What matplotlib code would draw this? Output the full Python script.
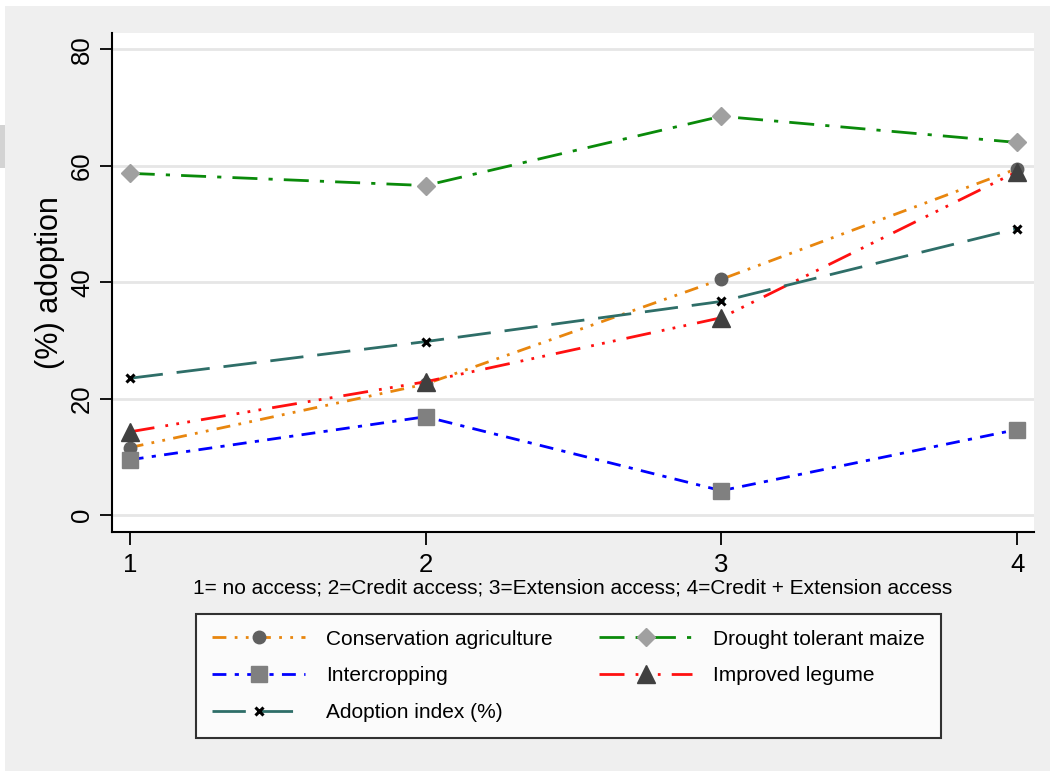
import matplotlib
matplotlib.use("Agg")
import matplotlib.pyplot as plt
import matplotlib.patches as patches

plt.rcParams['font.family'] = ['Liberation Sans', 'DejaVu Sans']

# access groups
groups = [1, 2, 3, 4]
x_labels = ['1', '2', '3', '4']

# (%) adoption by group
conservation = [11.6, 22.5, 40.5, 59.5]
drought = [58.7, 56.6, 68.5, 64.0]
intercropping = [9.5, 16.9, 4.2, 14.7]
legume = [14.3, 22.9, 33.9, 59.0]
adoption_index = [23.5, 29.8, 36.7, 49.2]

y_ticks = [0, 20, 40, 60, 80]

fig = plt.figure(figsize=(10.5, 7.71), dpi=100)
fig.patch.set_facecolor('white')

# gray background panel like the stata graph region
fig.add_artist(patches.Rectangle((5 / 1050, 0), 1, 1 - 6 / 771, transform=fig.transFigure,
                                 facecolor='#efefef', edgecolor='none', zorder=-10))
fig.add_artist(patches.Rectangle((0, 1 - 168 / 771), 5 / 1050, 43 / 771, transform=fig.transFigure,
                                 facecolor='#d3d3d3', edgecolor='none', zorder=-10))

ax = fig.add_axes([112 / 1050, 1 - 532 / 771, (1034 - 112) / 1050, (532 - 33) / 771])
ax.set_facecolor('white')

l_cons, = ax.plot(groups, conservation, color='#e8860e', lw=2, dashes=(5, 3, 1, 3, 1, 3),
                  marker='o', ms=9, mfc='#5f5f5f', mec='#5f5f5f', label='Conservation agriculture')
l_drought, = ax.plot(groups, drought, color='#0a8a0a', lw=2, dashes=(9, 4, 1.5, 4),
                     marker='D', ms=9, mfc='#a0a0a0', mec='#a0a0a0', label='Drought tolerant maize')
l_inter, = ax.plot(groups, intercropping, color='#0000ff', lw=2, dashes=(5, 3, 1.5, 3),
                   marker='s', ms=11, mfc='#808080', mec='#808080', label='Intercropping')
l_leg, = ax.plot(groups, legume, color='#ff1010', lw=2, dashes=(9, 4, 1, 3, 1, 3, 1, 4),
                 marker='^', ms=13, mfc='#404040', mec='#404040', label='Improved legume')
l_adopt, = ax.plot(groups, adoption_index, color='#2e6e68', lw=2, dashes=(12, 5),
                   marker='x', ms=6, mew=2.2, mfc='black', mec='black', label='Adoption index (%)')

ax.set_xlim(0.94, 4.057)
ax.set_ylim(-2.9, 82.8)
ax.set_xticks(groups)
ax.set_xticklabels(x_labels, fontsize=18.5)
ax.set_yticks(y_ticks)
ax.set_yticklabels([str(v) for v in y_ticks], fontsize=18.5, rotation=90, va='center')
ax.tick_params(axis='both', length=9, width=1.3, color='black')
ax.tick_params(axis='x', pad=6)
ax.tick_params(axis='y', pad=4)

ax.grid(axis='y', color='#e6e6e6', lw=2)
ax.set_axisbelow(True)
for side in ['top', 'right']:
    ax.spines[side].set_visible(False)
ax.spines['left'].set_linewidth(1.5)
ax.spines['bottom'].set_linewidth(1.5)

ax.set_ylabel('(%) adoption', fontsize=22)
ax.yaxis.set_label_coords(-0.051, 0.5)
ax.set_xlabel('1= no access; 2=Credit access; 3=Extension access; 4=Credit + Extension access',
              fontsize=15)
ax.xaxis.set_label_coords(0.5, -0.093)

handles = [l_cons, l_inter, l_adopt, l_drought, l_leg]
leg = fig.legend(handles=handles, labels=[h.get_label() for h in handles], ncol=2,
                 loc='upper left', bbox_to_anchor=(196 / 1050, 1 - 614 / 771),
                 fontsize=15, frameon=True, fancybox=False, edgecolor='black',
                 handlelength=4.5, handletextpad=1.0, columnspacing=2.2,
                 labelspacing=0.85, borderpad=0.75, borderaxespad=0)
leg.get_frame().set_linewidth(1.5)
leg.get_frame().set_facecolor('white')

fig.savefig('out.png', dpi=100, facecolor=fig.get_facecolor())
